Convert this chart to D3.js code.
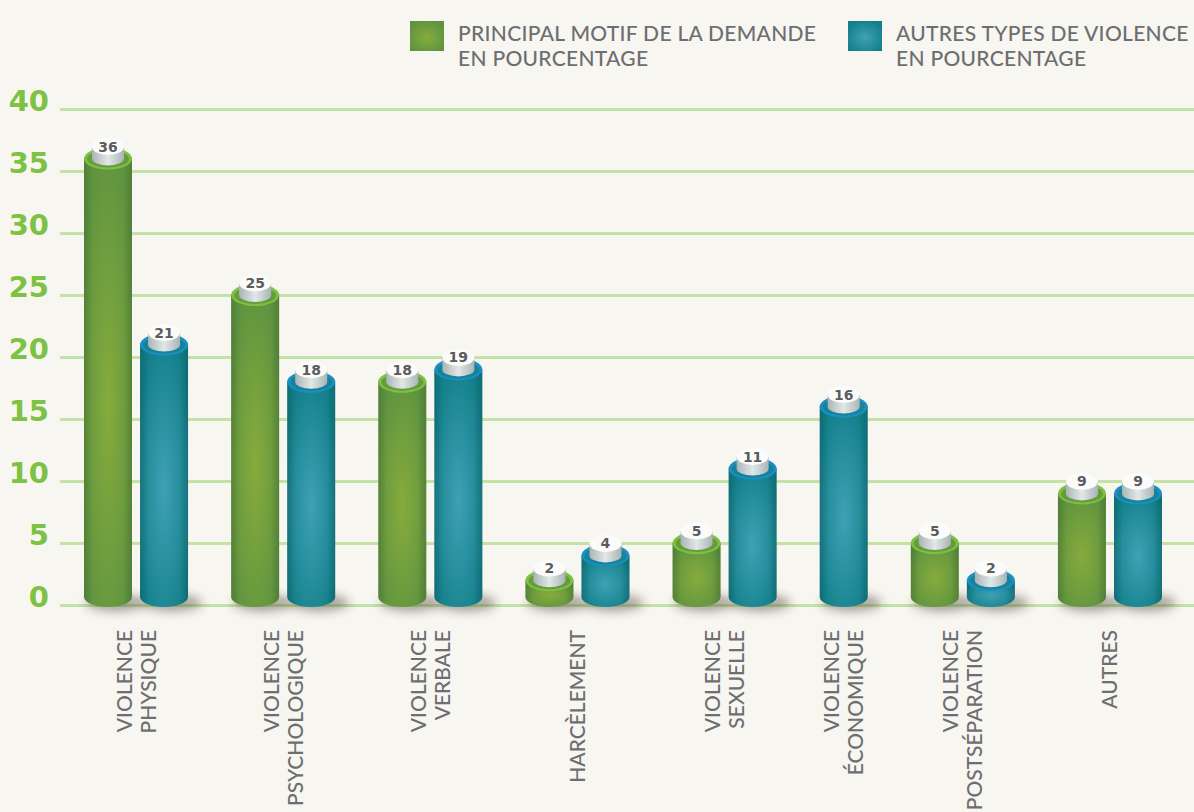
<!DOCTYPE html>
<html>
<head>
<meta charset="utf-8">
<script src="https://cdn.jsdelivr.net/npm/d3@7/dist/d3.min.js"></script>
<style>
    body { margin: 0; background: #f7f6f1; }
    svg { display: block; }
</style>
</head>
<body>
<div id="graph-container"></div>
<script>
// Data________________________________________________________________
const categories = [
    ['VIOLENCE', 'PHYSIQUE'],
    ['VIOLENCE', 'PSYCHOLOGIQUE'],
    ['VIOLENCE', 'VERBALE'],
    ['HARCÈLEMENT'],
    ['VIOLENCE', 'SEXUELLE'],
    ['VIOLENCE', 'ÉCONOMIQUE'],
    ['VIOLENCE', 'POSTSÉPARATION'],
    ['AUTRES'],
];
const principal = [36, 25, 18, 2, 5, null, 5, 9];
const autres = [21, 18, 19, 4, 11, 16, 2, 9];
const yTicks = [0, 5, 10, 15, 20, 25, 30, 35, 40];
const legendLabels = [
    ['PRINCIPAL MOTIF DE LA DEMANDE', 'EN POURCENTAGE'],
    ['AUTRES TYPES DE VIOLENCE', 'EN POURCENTAGE'],
];

const palette = {
    principal: { center: '#86ab3c', edge: '#5e9340', rim: '#7cc142', inner: '#689b3d' },
    autres: { center: '#3fa1b5', edge: '#127f89', rim: '#1b8fc3', inner: '#16839a' },
};

// Variables___________________________________________________________
const graphWidth = 1194;
const graphHeight = 812;
const barWidth = 48;
const rimRy = 11;
const groupGap = 0.625; // extra slot units between groups

// bar slots: bars inside a group touch slot by slot, groups get a gap
const bars = [];
const groupCenters = [];
let offset = 0;
categories.forEach((cat, i) => {
    const start = offset;
    [['principal', principal[i]], ['autres', autres[i]]]
        .filter(d => d[1] !== null)
        .forEach(([series, value]) => {
            bars.push({ series, value, slot: offset });
            offset += 1;
        });
    groupCenters.push((start + offset - 1) / 2);
    offset += groupGap;
});
const lastSlot = d3.max(bars, d => d.slot);

const xScale = d3.scaleLinear().domain([0, lastSlot]).range([108, 1138]);
const yScale = d3.scaleLinear().domain([0, 40]).range([605, 109]);

// SVG_________________________________________________________________
const svg = d3.select('#graph-container')
    .append('svg')
    .attr('width', graphWidth)
    .attr('height', graphHeight);

const defs = svg.append('defs');
Object.entries(palette).forEach(([key, c]) => {
    const rg = defs.append('radialGradient')
        .attr('id', `body-${key}`)
        .attr('cx', '50%').attr('cy', '55%').attr('r', '60%');
    rg.append('stop').attr('offset', '0%').attr('stop-color', c.center);
    rg.append('stop').attr('offset', '100%').attr('stop-color', c.edge);
});
const edge = defs.append('linearGradient').attr('id', 'edge-shade');
[[0, 0.14], [0.18, 0], [0.82, 0], [1, 0.14]].forEach(([o, a]) => {
    edge.append('stop').attr('offset', o).attr('stop-color', '#000').attr('stop-opacity', a);
});
const cap = defs.append('linearGradient').attr('id', 'cap-body');
[[0, '#aab5b8'], [0.5, '#e2e7e7'], [1, '#a9b4b6']].forEach(([o, col]) => {
    cap.append('stop').attr('offset', o).attr('stop-color', col);
});
defs.append('filter')
    .attr('id', 'blur')
    .attr('x', '-50%').attr('y', '-100%').attr('width', '200%').attr('height', '300%')
    .append('feGaussianBlur')
    .attr('stdDeviation', 5);

// Grid + y axis_______________________________________________________
const yAxis = d3.axisLeft(yScale)
    .tickValues(yTicks)
    .tickSize(-(graphWidth - 60))
    .tickPadding(11);
const yAxisG = svg.append('g')
    .attr('transform', 'translate(60,0)')
    .call(yAxis);
yAxisG.select('.domain').remove();
yAxisG.selectAll('.tick line')
    .attr('stroke', '#c3e2a6')
    .attr('stroke-width', 3);
yAxisG.selectAll('.tick text')
    .attr('fill', '#7dc242')
    .attr('dy', '0.04em')
    .style('font-family', '"DejaVu Sans", sans-serif')
    .style('font-weight', 'bold')
    .style('font-size', '29px');

// Bars________________________________________________________________
const cylPath = (cx, top, bottom, r, ry) =>
    `M${cx - r},${top} L${cx - r},${bottom} A${r},${ry} 0 0 0 ${cx + r},${bottom} L${cx + r},${top} Z`;

const barG = svg.append('g')
    .selectAll('g')
    .data(bars)
    .enter()
    .append('g')
    .attr('class', 'bar');

const y0 = yScale(0) - 8;

barG.append('ellipse')
    .attr('cx', d => xScale(d.slot) + 8)
    .attr('cy', y0 + 6)
    .attr('rx', barWidth / 2 + 6)
    .attr('ry', 9)
    .attr('fill', 'rgba(60,50,40,0.4)')
    .attr('filter', 'url(#blur)');

barG.append('path')
    .attr('d', d => cylPath(xScale(d.slot), yScale(d.value), y0, barWidth / 2, rimRy - 1))
    .attr('fill', d => `url(#body-${d.series})`);
barG.append('path')
    .attr('d', d => cylPath(xScale(d.slot), yScale(d.value), y0, barWidth / 2, rimRy - 1))
    .attr('fill', 'url(#edge-shade)');

// rim at the top
barG.append('ellipse')
    .attr('cx', d => xScale(d.slot))
    .attr('cy', d => yScale(d.value))
    .attr('rx', barWidth / 2)
    .attr('ry', rimRy)
    .attr('fill', d => palette[d.series].rim);
barG.append('ellipse')
    .attr('cx', d => xScale(d.slot))
    .attr('cy', d => yScale(d.value) + 0.5)
    .attr('rx', barWidth / 2 - 3)
    .attr('ry', rimRy - 2.5)
    .attr('fill', d => palette[d.series].inner);

// little value cylinder
const capH = 12;
barG.append('path')
    .attr('d', d => cylPath(xScale(d.slot), yScale(d.value) - capH, yScale(d.value), 16, 7))
    .attr('fill', 'url(#cap-body)');
barG.append('ellipse')
    .attr('cx', d => xScale(d.slot))
    .attr('cy', d => yScale(d.value) - capH)
    .attr('rx', 16)
    .attr('ry', 8.5)
    .attr('fill', '#fbfbfa');
barG.append('text')
    .attr('x', d => xScale(d.slot))
    .attr('y', d => yScale(d.value) - capH)
    .attr('dy', '0.36em')
    .attr('text-anchor', 'middle')
    .attr('fill', '#5a5b5d')
    .style('font-family', '"DejaVu Sans", sans-serif')
    .style('font-weight', 'bold')
    .style('font-size', '14px')
    .text(d => d.value);

// Category labels_____________________________________________________
svg.append('g')
    .selectAll('g')
    .data(categories)
    .enter()
    .append('g')
    .attr('transform', (d, i) => `translate(${xScale(groupCenters[i]) - 1},630) rotate(-90)`)
    .each(function (lines) {
        d3.select(this)
            .selectAll('text')
            .data(lines)
            .enter()
            .append('text')
            .attr('x', 0)
            .attr('y', (l, j) => (j - (lines.length - 1) / 2) * 24)
            .attr('dominant-baseline', 'central')
            .attr('text-anchor', 'end')
            .attr('fill', '#6d6e70')
            .style('font-family', 'Lato, sans-serif')
            .style('font-weight', 500)
            .style('font-size', '21px')
            .text(l => l);
    });

// Legend______________________________________________________________
const legend = svg.append('g')
    .selectAll('g')
    .data(['principal', 'autres'])
    .enter()
    .append('g')
    .attr('transform', (d, i) => `translate(${[410, 848][i]},21)`);
legend.append('rect')
    .attr('width', 34)
    .attr('height', 30)
    .attr('fill', d => `url(#body-${d})`);
legend.each(function (d, i) {
    d3.select(this)
        .selectAll('text')
        .data(legendLabels[i])
        .enter()
        .append('text')
        .attr('x', 48)
        .attr('y', (l, j) => 20 + j * 25)
        .attr('fill', '#6d6e70')
        .style('font-family', 'Lato, sans-serif')
        .style('font-weight', 500)
        .style('font-size', '21px')
        .style('letter-spacing', '0.3px')
        .text(l => l);
});
</script>
</body>
</html>
